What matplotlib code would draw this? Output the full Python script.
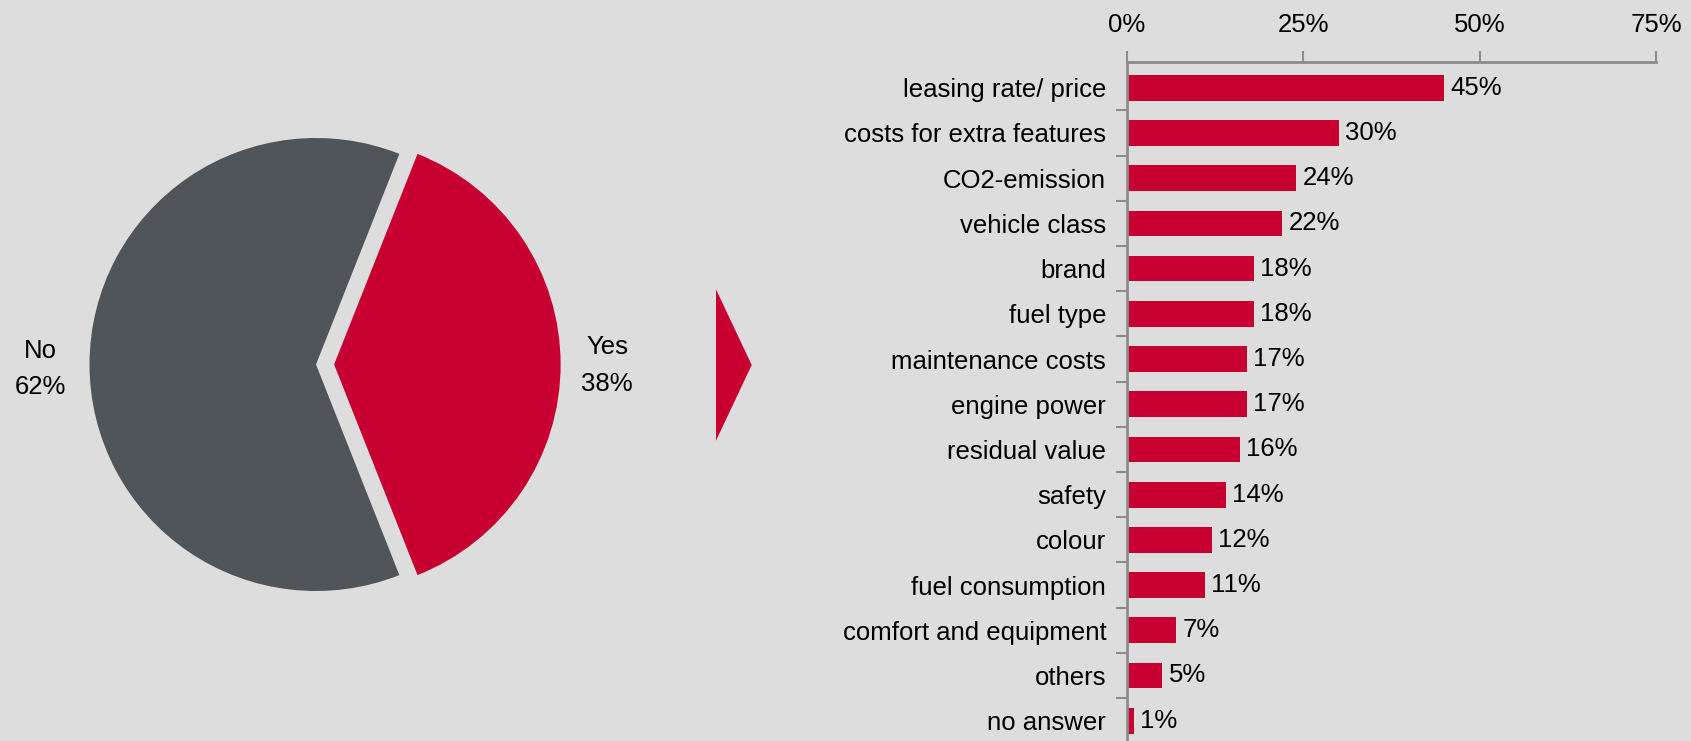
import matplotlib

matplotlib.use("Agg")
import matplotlib.pyplot as plt
from matplotlib.patches import Polygon
from matplotlib.ticker import FixedLocator, PercentFormatter

plt.rcParams["font.family"] = ["Liberation Sans", "DejaVu Sans"]

# pie: share of respondents
pie_labels = ["Yes", "No"]
pie_values = [38, 62]

# bars: criteria named by the "Yes" group
criteria = [
    "leasing rate/ price",
    "costs for extra features",
    "CO2-emission",
    "vehicle class",
    "brand",
    "fuel type",
    "maintenance costs",
    "engine power",
    "residual value",
    "safety",
    "colour",
    "fuel consumption",
    "comfort and equipment",
    "others",
    "no answer",
]
shares = [45, 30, 24, 22, 18, 18, 17, 17, 16, 14, 12, 11, 7, 5, 1]
x_ticks = [0, 25, 50, 75]

BG = "#DDDDDD"
RED = "#C80032"
GREY = "#50555A"
AXIS = "#8C8C8C"
FS = 18.5
W, H = 1691, 741

fig = plt.figure(figsize=(W / 100, H / 100), dpi=100, facecolor=BG)

# --- pie ---------------------------------------------------------------
r_px = 226.5
cx, cy = 316, H - 364.5
half = 300
ax_pie = fig.add_axes([(cx - half) / W, (cy - half) / H, 2 * half / W, 2 * half / H])
ax_pie.set_facecolor(BG)
start = -pie_values[0] / sum(pie_values) * 360 / 2
ax_pie.pie(
    pie_values,
    colors=[RED, GREY],
    startangle=start,
    counterclock=True,
    explode=[0.08, 0],
    radius=1,
    wedgeprops=dict(linewidth=0),
)
lim = half / r_px
ax_pie.set_xlim(-lim, lim)
ax_pie.set_ylim(-lim, lim)
ax_pie.set_aspect("equal")
label_pos = {"Yes": (1.285, -0.004), "No": (-1.218, -0.019)}
for lab, val in zip(pie_labels, pie_values):
    x, y = label_pos[lab]
    ax_pie.text(x, y, f"{lab}\n{val}%", ha="center", va="center",
                fontsize=FS, linespacing=1.65, color="black")

# --- arrow between the panels ------------------------------------------
tri = Polygon(
    [(716 / W, 1 - 289.3 / H), (716 / W, 1 - 440.7 / H), (751.7 / W, 1 - 365 / H)],
    closed=True, transform=fig.transFigure, facecolor=RED, edgecolor="none",
)
fig.patches.append(tri)

# --- bars --------------------------------------------------------------
left, right = 1127, 1656
top, bottom = 62, 743.3
ax = fig.add_axes([left / W, (H - bottom) / H, (right - left) / W, (bottom - top) / H])
ax.set_facecolor(BG)
ax.patch.set_alpha(0)
ypos = list(range(len(criteria)))
ax.barh(ypos, shares, height=0.57, color=RED)
for y, v in zip(ypos, shares):
    ax.text(v + 0.9, y, f"{v}%", va="center", ha="left", fontsize=FS)

ax.set_xlim(0, 75)
ax.set_ylim(len(criteria) - 0.5, -0.57)
ax.xaxis.tick_top()
ax.set_xticks(x_ticks)
ax.xaxis.set_major_formatter(PercentFormatter(decimals=0))
ax.tick_params(axis="x", direction="out", length=8, width=1.5, color=AXIS,
               labelsize=FS, pad=10)
ax.set_yticks(ypos)
ax.set_yticklabels(criteria)
ax.tick_params(axis="y", which="major", length=0, labelsize=FS, pad=15)
ax.yaxis.set_minor_locator(FixedLocator([i + 0.5 for i in ypos[:-1]]))
ax.tick_params(axis="y", which="minor", direction="out", length=8, width=1.5, color=AXIS)
for side in ("right", "bottom"):
    ax.spines[side].set_visible(False)
for side in ("left", "top"):
    ax.spines[side].set_color(AXIS)
    ax.spines[side].set_linewidth(2)

fig.savefig("out.png", dpi=100, facecolor=BG)
